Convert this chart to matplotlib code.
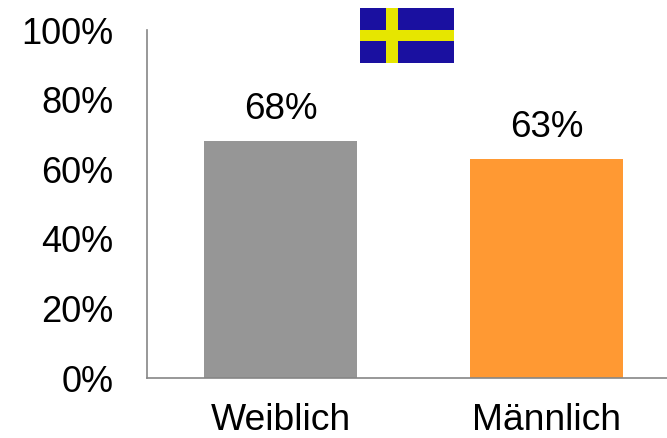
import matplotlib
matplotlib.use("Agg")
import matplotlib.pyplot as plt
from matplotlib.patches import Rectangle

categories = ["Weiblich", "Männlich"]
values = [68, 63]
bar_colors = ["#969696", "#FF9933"]
tick_values = [0, 20, 40, 60, 80, 100]

plt.rcParams["font.family"] = ["Liberation Sans", "DejaVu Sans"]

W, H = 667, 438
fig = plt.figure(figsize=(W / 100, H / 100), dpi=100)
# axes box in pixels: x 147..667, y 30..378
ax = fig.add_axes([147 / W, 1 - 378 / H, 520 / W, 348 / H])

ax.bar(range(len(categories)), values, width=0.575, color=bar_colors)
# bar centres sit 266 px apart, the right end is cut off by the image
ax.set_xlim(-0.502, 1.453)
ax.set_ylim(0, 100)

for i, v in enumerate(values):
    ax.annotate(f"{v}%", (i, v), xytext=(0, 10), textcoords="offset points",
                ha="center", va="bottom", fontsize=26.5, color="black")

ax.set_yticks(tick_values)
ax.set_yticklabels([f"{t}%" for t in tick_values], fontsize=26)
ax.set_xticks(range(len(categories)))
ax.set_xticklabels(categories, fontsize=26.8)
ax.tick_params(axis="both", length=0)
ax.tick_params(axis="y", pad=24)
ax.tick_params(axis="x", pad=18)

for s in ["top", "right"]:
    ax.spines[s].set_visible(False)
for s in ["left", "bottom"]:
    ax.spines[s].set_color("#868686")
    ax.spines[s].set_linewidth(1.2)

# Swedish flag above the chart
flag = fig.add_axes([360 / W, 1 - 63 / H, 94 / W, 55 / H])
flag.set_xlim(0, 94)
flag.set_ylim(55, 0)
flag.axis("off")
flag.add_patch(Rectangle((0, 0), 94, 55, color="#1A10A0", lw=0))
flag.add_patch(Rectangle((26, 0), 12, 55, color="#E6E600", lw=0))
flag.add_patch(Rectangle((0, 22), 94, 11, color="#E6E600", lw=0))

fig.savefig("out.png", dpi=100)
